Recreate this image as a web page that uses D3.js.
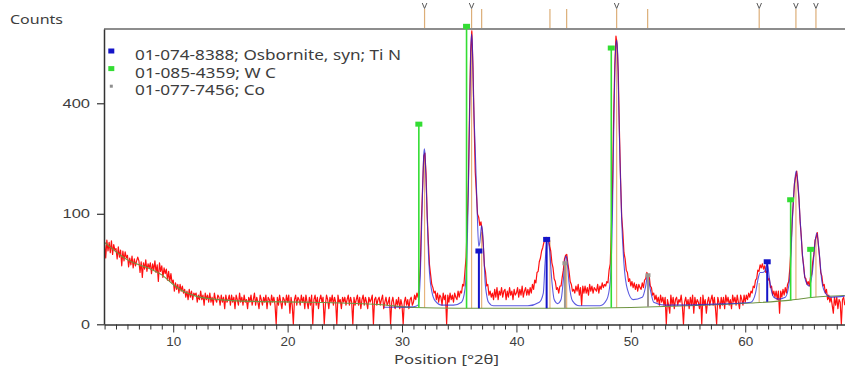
<!DOCTYPE html>
<html><head><meta charset="utf-8">
<script src="https://cdn.jsdelivr.net/npm/d3@7"></script>
<style>
html,body{margin:0;padding:0;background:#fff;}
svg{display:block;font-family:"Noto Sans",sans-serif;}
</style></head><body>
<svg id="chart" width="845" height="370"></svg>
<script>
// Scan: counts every 0.1 °2θ starting at 4.0
const scanStart = 4.0;
const scanStep = 0.1;
const observedCounts = [
  54, 36, 58, 44, 55, 42, 57, 40, 52, 45,      // 4
  47, 35, 49, 37, 45, 28, 44, 33, 43, 36,      // 5
  39, 27, 36, 29, 38, 26, 35, 28, 33, 37,      // 6
  33, 22, 32, 18, 31, 25, 34, 23, 30, 26,      // 7
  31, 21, 30, 24, 33, 22, 29, 15, 31, 23,      // 8
  28, 18, 26, 21, 25, 16, 23, 15, 21, 14,      // 9
  16, 9, 14, 10, 13, 8, 13, 9, 12, 8,          // 10
  10, 6, 9, 5, 10, 6, 9, 5, 8, 7,              // 11
  8, 4, 7, 5, 9, 5, 7, 3, 8, 5,                // 12
  7, 4, 8, 4, 6, 3, 8, 5, 4, 7,                // 13
  6, 3, 7, 4, 6, 2, 7, 4, 5, 7,                // 14
  3, 7, 4, 6, 2, 7, 5, 3, 8, 4,                // 15
  6, 3, 7, 4, 5, 2, 6, 4, 7, 3,                // 16
  5, 8, 3, 6, 4, 2, 7, 5, 3, 6,                // 17
  4, 7, 2, 6, 5, 3, 7, 4, 6, 3,                // 18
  0, 6, 3, 7, 4, 2, 6, 5, 3, 7,                // 19
  4, 7, 1, 6, 3, 0, 5, 7, 3, 6,                // 20
  5, 3, 7, 4, 6, 2, 7, 4, 2, 6,                // 21
  3, 7, 0, 5, 7, 3, 6, 2, 5, 7,                // 22
  4, 6, 0, 3, 7, 5, 2, 6, 4, 7,                // 23
  3, 6, 4, 0, 7, 4, 5, 2, 6, 4,                // 24
  6, 3, 5, 7, 3, 6, 4, 0, 6, 3,                // 25
  5, 7, 3, 6, 2, 5, 7, 3, 6, 4,                // 26
  2, 6, 4, 5, 7, 0, 5, 6, 3, 5,                // 27
  6, 3, 5, 7, 2, 4, 6, 3, 4, 6,                // 28
  0, 4, 6, 3, 2, 5, 3, 6, 2, 5,                // 29
  3, 0, 4, 6, 3, 5, 2, 5, 6, 3,                // 30
  4, 7, 5, 8, 6, 13, 28, 90, 155, 232,         // 31
  240, 185, 98, 56, 29, 20, 13, 11, 8, 9,      // 32
  5, 8, 4, 7, 6, 3, 8, 5, 7, 0,                // 33
  7, 4, 8, 5, 7, 4, 8, 6, 5, 9,                // 34
  6, 9, 8, 13, 12, 23, 37, 84, 165, 370,       // 35
  610, 705, 545, 335, 190, 142, 99, 94, 80, 86, // 36
  72, 53, 28, 22, 12, 13, 7, 9, 6, 8,          // 37
  5, 10, 6, 11, 5, 9, 7, 11, 6, 9,             // 38
  10, 5, 9, 6, 11, 7, 9, 5, 10, 7,             // 39
  8, 11, 6, 10, 7, 12, 6, 9, 11, 7,            // 40
  10, 7, 11, 8, 13, 10, 16, 14, 22, 23,        // 41
  32, 36, 44, 48, 55, 57, 62, 60, 59, 50,      // 42
  44, 31, 26, 17, 15, 10, 11, 8, 12, 12,       // 43
  18, 24, 35, 39, 40, 30, 23, 15, 13, 9,       // 44
  10, 8, 12, 9, 13, 7, 11, 3, 12, 8,           // 45
  12, 8, 11, 7, 13, 9, 12, 8, 11, 10,          // 46
  9, 13, 8, 12, 10, 14, 11, 13, 12, 15,        // 47
  14, 24, 30, 74, 155, 360, 550, 680, 640, 520, // 48
  310, 175, 95, 70, 42, 35, 24, 22, 15, 17,    // 49
  12, 15, 11, 14, 10, 13, 9, 13, 11, 10,       // 50
  14, 11, 16, 17, 22, 20, 20, 12, 11, 7,       // 51
  8, 5, 7, 4, 6, 3, 7, 4, 6, 3,                // 52
  6, 0, 5, 3, 1, 7, 3, 6, 2, 5,                // 53
  6, 3, 5, 4, 7, 3, 0, 4, 6, 3,                // 54
  5, 2, 6, 3, 7, 1, 6, 3, 5, 4,                // 55
  2, 6, 0, 7, 3, 5, 1, 4, 6, 3,                // 56
  5, 7, 3, 6, 2, 0, 6, 4, 2, 6,                // 57
  3, 6, 2, 7, 4, 6, 3, 5, 2, 7,                // 58
  4, 6, 3, 7, 4, 2, 7, 5, 3, 7,                // 59
  4, 7, 5, 8, 6, 9, 8, 12, 11, 16,             // 60
  17, 24, 23, 29, 26, 30, 25, 28, 22, 23,      // 61
  16, 17, 11, 12, 7, 9, 6, 9, 5, 9,            // 62
  1, 9, 6, 10, 7, 11, 8, 13, 15, 26,           // 63
  48, 88, 120, 162, 178, 192, 158, 128, 85, 63, // 64
  38, 29, 18, 17, 13, 15, 12, 18, 20, 32,      // 65
  40, 58, 62, 69, 50, 36, 22, 19, 12, 13,      // 66
  8, 10, 5, 7, 4, 6, 3, 1, 6, 3,               // 67
  6, 2, 5, 4, 0, 5, 6, 3                       // 68
];

// Calculated profile [°2θ, counts]
const calcProfile = [
  [28.4, 2.4], [30.0, 2.4], [31.0, 2.5], [31.4, 3], [31.6, 20], [31.7, 70], [31.8, 150],
  [31.9, 235], [31.95, 252], [32.0, 240], [32.1, 170], [32.2, 95], [32.3, 45], [32.4, 22],
  [32.6, 9], [32.9, 4.5], [33.5, 3], [34.5, 3], [35.2, 4], [35.5, 10], [35.7, 50],
  [35.8, 150], [35.9, 340], [36.0, 600], [36.08, 690], [36.15, 640], [36.25, 420],
  [36.4, 250], [36.55, 120], [36.7, 50], [36.8, 55], [36.9, 72], [36.96, 80], [37.05, 68],
  [37.15, 40], [37.27, 14], [37.4, 7], [37.56, 4], [38.0, 2.8], [41.0, 2.8], [42.0, 4],
  [42.35, 8], [42.5, 30], [42.7, 60], [42.8, 56], [42.9, 45], [43.1, 15], [43.3, 5],
  [43.6, 3.5], [43.9, 5], [44.1, 16], [44.3, 38], [44.4, 36], [44.6, 14], [44.9, 4.5],
  [45.5, 2.8], [47.3, 2.8], [47.9, 5], [48.2, 15], [48.4, 110], [48.5, 300], [48.6, 520],
  [48.7, 640], [48.76, 660], [48.85, 600], [48.95, 380], [49.05, 220], [49.2, 90],
  [49.4, 30], [49.7, 10], [50.2, 5], [51.0, 6], [51.3, 12], [51.47, 20], [51.7, 10],
  [52.0, 4], [53.0, 3], [58.0, 3.4], [60.5, 4], [60.9, 8], [61.1, 16], [61.3, 22],
  [61.5, 22], [61.7, 23], [61.85, 28], [61.95, 29], [62.1, 18], [62.3, 9], [62.5, 6],
  [62.9, 5.2], [63.5, 6], [63.8, 12], [63.95, 25], [64.1, 80], [64.3, 160], [64.45, 192],
  [64.6, 165], [64.8, 90], [65.0, 40], [65.3, 15], [65.6, 12], [65.9, 25], [66.1, 55],
  [66.25, 68], [66.45, 45], [66.7, 15], [67.0, 8], [67.5, 6], [68.7, 6.5]
];

// Fitted background [°2θ, counts]
const backgroundCurve = [
  [4.0, 55], [5.0, 43], [6.0, 34], [7.0, 29], [8.0, 25], [9.0, 20], [10.0, 13], [11.0, 8.5],
  [12.0, 6.5], [14.0, 5], [17.0, 4.3], [22.0, 4], [28.0, 3.2], [31.0, 2.3], [35.0, 2.1],
  [40.0, 2.1], [45.0, 2.1], [50.0, 2.3], [55.0, 2.8], [58.0, 3.2], [60.5, 3.7], [64.0, 4.8],
  [66.0, 6.0], [68.7, 6.8]
];

// Reference patterns: positions (°2θ) and stick heights (counts)
const tinRef = "01-074-8388; Osbornite, syn; Ti N";
const tinPos = [36.72, 42.64, 61.92];
const tinInt = [44, 59, 32];
const wcRef = "01-085-4359; W C";
const wcPos = [31.47, 35.64, 48.29, 63.97, 65.72];
const wcInt = [328, 727, 625, 127, 46];
const coRef = "01-077-7456; Co";
const coPos = [44.24, 51.5];
const coInt = [30.5, 19.7];

// Peak list
const peakPos = [31.97, 36.08, 36.96, 42.93, 44.39, 48.76, 51.47, 61.22, 64.43, 66.18];
const peakHeight = [240, 700, 70, 58, 38, 665, 18, 14, 185, 62];
const peakMatched = [true, true, false, false, false, true, false, true, true, true];

// Axis ticks
const yTicks = [0, 100, 400];
const xLabelTicks = [10, 20, 30, 40, 50, 60];
const xMinorTicks = d3.range(4, 69);

const svg = d3.select("#chart");
const x = d3.scaleLinear().domain([3.95, 68.72]).range([104, 845]);
const y = d3.scaleSqrt().domain([0, 714]).range([324.3, 29]);

const textColor = "#3d3d3d";

function bgAt(p) {
  const i = d3.bisector(d => d[0]).right(backgroundCurve, p);
  const a = backgroundCurve[Math.max(0, i - 1)];
  const b = backgroundCurve[Math.min(backgroundCurve.length - 1, i)];
  if (a === b) return a[1];
  const t = (p - a[0]) / (b[0] - a[0]);
  return a[1] + t * (b[1] - a[1]);
}

const line = d3.line().x(d => x(d[0])).y(d => y(Math.max(0, d[1])));

// Top frame line and peak list markers above it
svg.append("line").attr("x1", 104).attr("x2", 845).attr("y1", 29).attr("y2", 29)
  .attr("stroke", "#8d8d8d").attr("stroke-width", 2);

const topMarks = svg.append("g");
peakPos.forEach((p, i) => {
  topMarks.append("line").attr("x1", x(p)).attr("x2", x(p)).attr("y1", 9).attr("y2", 28)
    .attr("stroke", "#dcae78").attr("stroke-width", 1.2);
  if (peakMatched[i]) {
    topMarks.append("path")
      .attr("d", `M${x(p) - 2.3},3 L${x(p)},8.5 L${x(p) + 2.3},3`)
      .attr("fill", "none").attr("stroke", "#5a5a5a").attr("stroke-width", 1);
  }
});

// Peak list sticks
const plot = svg.append("g");
peakPos.forEach((p, i) => {
  plot.append("line").attr("x1", x(p)).attr("x2", x(p))
    .attr("y1", y(bgAt(p))).attr("y2", y(peakHeight[i]))
    .attr("stroke", "#e6b47c").attr("stroke-width", 1.2);
});

// Observed scan
const observed = observedCounts.map((c, i) => [scanStart + i * scanStep, c]);
plot.append("path").datum(observed).attr("d", line)
  .attr("fill", "none").attr("stroke", "#ff1010").attr("stroke-width", 1.2)
  .attr("stroke-linejoin", "round");

// Background and calculated profile
plot.append("path").datum(backgroundCurve)
  .attr("d", line.curve(d3.curveMonotoneX))
  .attr("fill", "none").attr("stroke", "#6f9542").attr("stroke-width", 1.1);
plot.append("path").datum(calcProfile)
  .attr("d", line.curve(d3.curveMonotoneX))
  .attr("fill", "none").attr("stroke", "#2323d6").attr("stroke-width", 1.1)
  .attr("stroke-opacity", 0.75);

// Reference sticks
function sticks(pos, ints, color, width, mw, mh) {
  pos.forEach((p, i) => {
    plot.append("line").attr("x1", x(p)).attr("x2", x(p))
      .attr("y1", y(bgAt(p))).attr("y2", y(ints[i]))
      .attr("stroke", color).attr("stroke-width", width);
    plot.append("rect").attr("x", x(p) - mw / 2).attr("y", y(ints[i]) - mh / 2)
      .attr("width", mw).attr("height", mh).attr("fill", color);
  });
}
sticks(wcPos, wcInt, "#33dd33", 1.6, 7, 5);
sticks(tinPos, tinInt, "#1414c8", 2, 7, 5);
sticks(coPos, coInt, "#9c978f", 2, 5, 4);

// Axes
const yAxis = svg.append("g").attr("transform", "translate(104,0)")
  .call(d3.axisLeft(y).tickValues(yTicks).tickSize(7).tickSizeOuter(0).tickPadding(7));
yAxis.select(".domain").attr("stroke", "#333").attr("stroke-width", 1.5);
yAxis.selectAll(".tick line").attr("stroke", "#333").attr("stroke-width", 1.2);
yAxis.selectAll(".tick text").attr("fill", textColor).style("font-size", "12px")
  .attr("textLength", d => d === 0 ? 9 : 27.5).attr("lengthAdjust", "spacingAndGlyphs");

const xAxis = svg.append("g").attr("transform", "translate(0,324.5)")
  .call(d3.axisBottom(x).tickValues(xMinorTicks).tickSize(5).tickSizeOuter(0)
    .tickFormat(d => xLabelTicks.includes(d) ? d : ""));
xAxis.select(".domain").attr("stroke", "#333").attr("stroke-width", 1.5);
xAxis.selectAll(".tick line").attr("stroke", "#333").attr("stroke-width", 1)
  .attr("y2", d => xLabelTicks.includes(d) ? 8 : 5);
xAxis.selectAll(".tick text").attr("fill", textColor).style("font-size", "12px")
  .attr("y", 13).attr("textLength", d => xLabelTicks.includes(d) ? 15 : null)
  .attr("lengthAdjust", "spacingAndGlyphs");

// Axis titles
svg.append("text").attr("x", 10).attr("y", 24).text("Counts")
  .attr("fill", textColor).style("font-size", "13px")
  .attr("textLength", 53).attr("lengthAdjust", "spacingAndGlyphs");
svg.append("text").attr("x", 394).attr("y", 363.5).text("Position [°2θ]")
  .attr("fill", textColor).style("font-size", "13px")
  .attr("textLength", 105).attr("lengthAdjust", "spacingAndGlyphs");

// Legend
const legend = [
  { label: tinRef, color: "#1414c8", w: 6, h: 5, width: 266 },
  { label: wcRef, color: "#33dd33", w: 6, h: 5, width: 141 },
  { label: coRef, color: "#8f8f8f", w: 3, h: 3, width: 130 }
];
legend.forEach((d, i) => {
  const cy = 51 + i * 17.6;
  svg.append("rect").attr("x", 111.3 - d.w / 2).attr("y", cy - d.h / 2)
    .attr("width", d.w).attr("height", d.h).attr("fill", d.color);
  svg.append("text").attr("x", 135).attr("y", cy + 9).text(d.label)
    .attr("fill", textColor).style("font-size", "13.5px")
    .attr("textLength", d.width).attr("lengthAdjust", "spacingAndGlyphs");
});
</script>
</body></html>
